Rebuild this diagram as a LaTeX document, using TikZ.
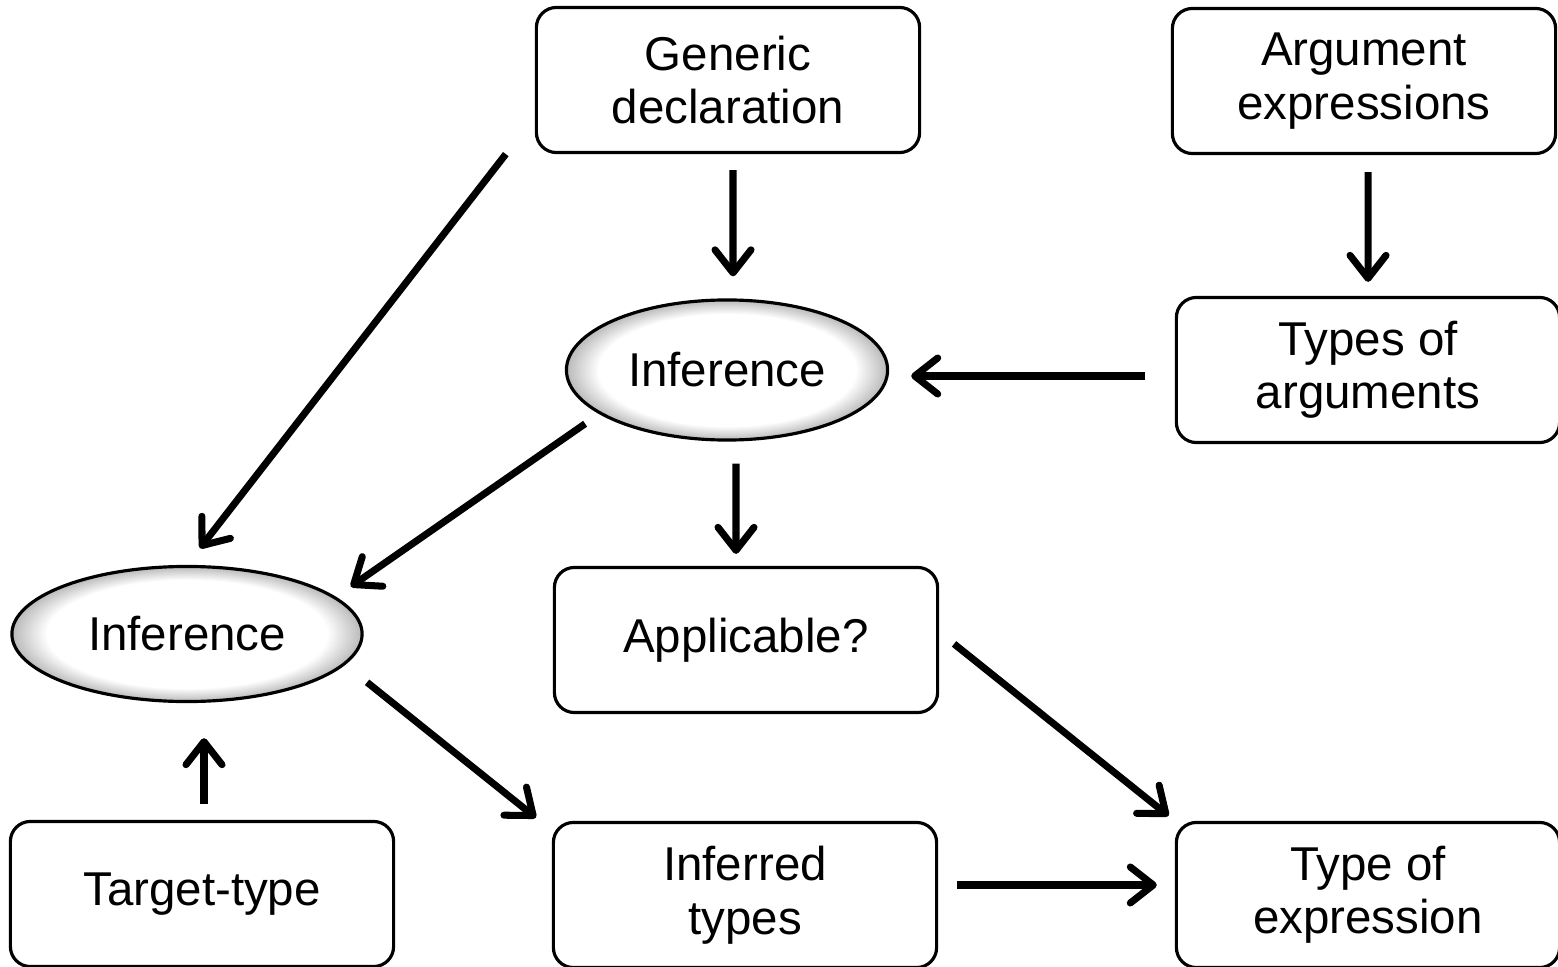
\documentclass[tikz,border=0pt]{standalone}
\usepackage{fontspec}
\setmainfont{Liberation Sans}
\usetikzlibrary{arrows.meta,shapes.geometric}
\pgfdeclareradialshading{rim}{\pgfpoint{0bp}{0bp}}{color(0bp)=(white); color(20bp)=(white); color(25bp)=(gray!55); color(50bp)=(gray)}
\tikzset{every node/.style={font=\fontsize{13.5}{15.2}\selectfont,align=center},
  box/.style={draw,line width=.9pt,fill=white,rounded corners=.2cm,minimum width=3.83cm,minimum height=1.45cm},
  oval/.style={draw,ellipse,line width=.9pt,shading=rim,minimum width=3.21cm,minimum height=1.4cm},
  flow/.style={line width=2pt,-{Straight Barb[round,length=2.3mm,width=3.6mm]}}}
\begin{document}
\begin{tikzpicture}[x=.01cm,y=-.01cm]
\useasboundingbox (0,0) rectangle (1558,967);
\node[box] (gen) at (728,80) {Generic\\declaration};
\node[box] (arg) at (1364,81) {Argument\\expressions};
\node[oval] (inf) at (727,370) {Inference};
\node[box] (tyarg) at (1368,370) {Types of\\arguments};
\node[oval,minimum width=3.5cm,minimum height=1.35cm] (ileft) at (187,634) {Inference};
\node[box] (appl) at (746,640) {Applicable?};
\node[box] (target) at (202,894) {Target-type};
\node[box] (inftypes) at (745,895) {Inferred\\types};
\node[box] (tyexpr) at (1368,895) {Type of\\expression};
\draw[flow,shorten <=.16cm,shorten >=.22cm] ([xshift=.05cm]gen.south) -- ([xshift=.06cm]inf.north);
\draw[flow,shorten >=.21cm] ([xshift=-.29cm]gen.south west) -- (ileft.north);
\draw[flow,shorten <=.17cm,shorten >=.14cm] ([xshift=.04cm]arg.south) -- (tyarg.north);
\draw[flow,shorten <=.3cm,shorten >=.22cm] ([yshift=-.06cm]tyarg.west) -- ([yshift=-.06cm]inf.east);
\draw[flow,shorten <=.17cm,shorten >=.18cm] (inf.199) -- (ileft.14);
\draw[flow,shorten <=.22cm,shorten >=.12cm] ([xshift=.09cm]inf.south) -- ([xshift=-.1cm]appl.north);
\draw[flow,shorten <=.28cm,shorten >=.05cm] (ileft.349) -- ([xshift=-.12cm]inftypes.north west);
\draw[flow,shorten <=.19cm,shorten >=.08cm] ([yshift=.08cm]appl.east) -- (tyexpr.north west);
\draw[flow,shorten <=.16cm,shorten >=.35cm] ([xshift=.02cm]target.north) -- ([xshift=.02cm]target.north |- ileft.south);
\draw[flow,shorten <=.19cm,shorten >=.18cm] ([yshift=.1cm]inftypes.east) -- ([yshift=.1cm]tyexpr.west);
\end{tikzpicture}
\end{document}
